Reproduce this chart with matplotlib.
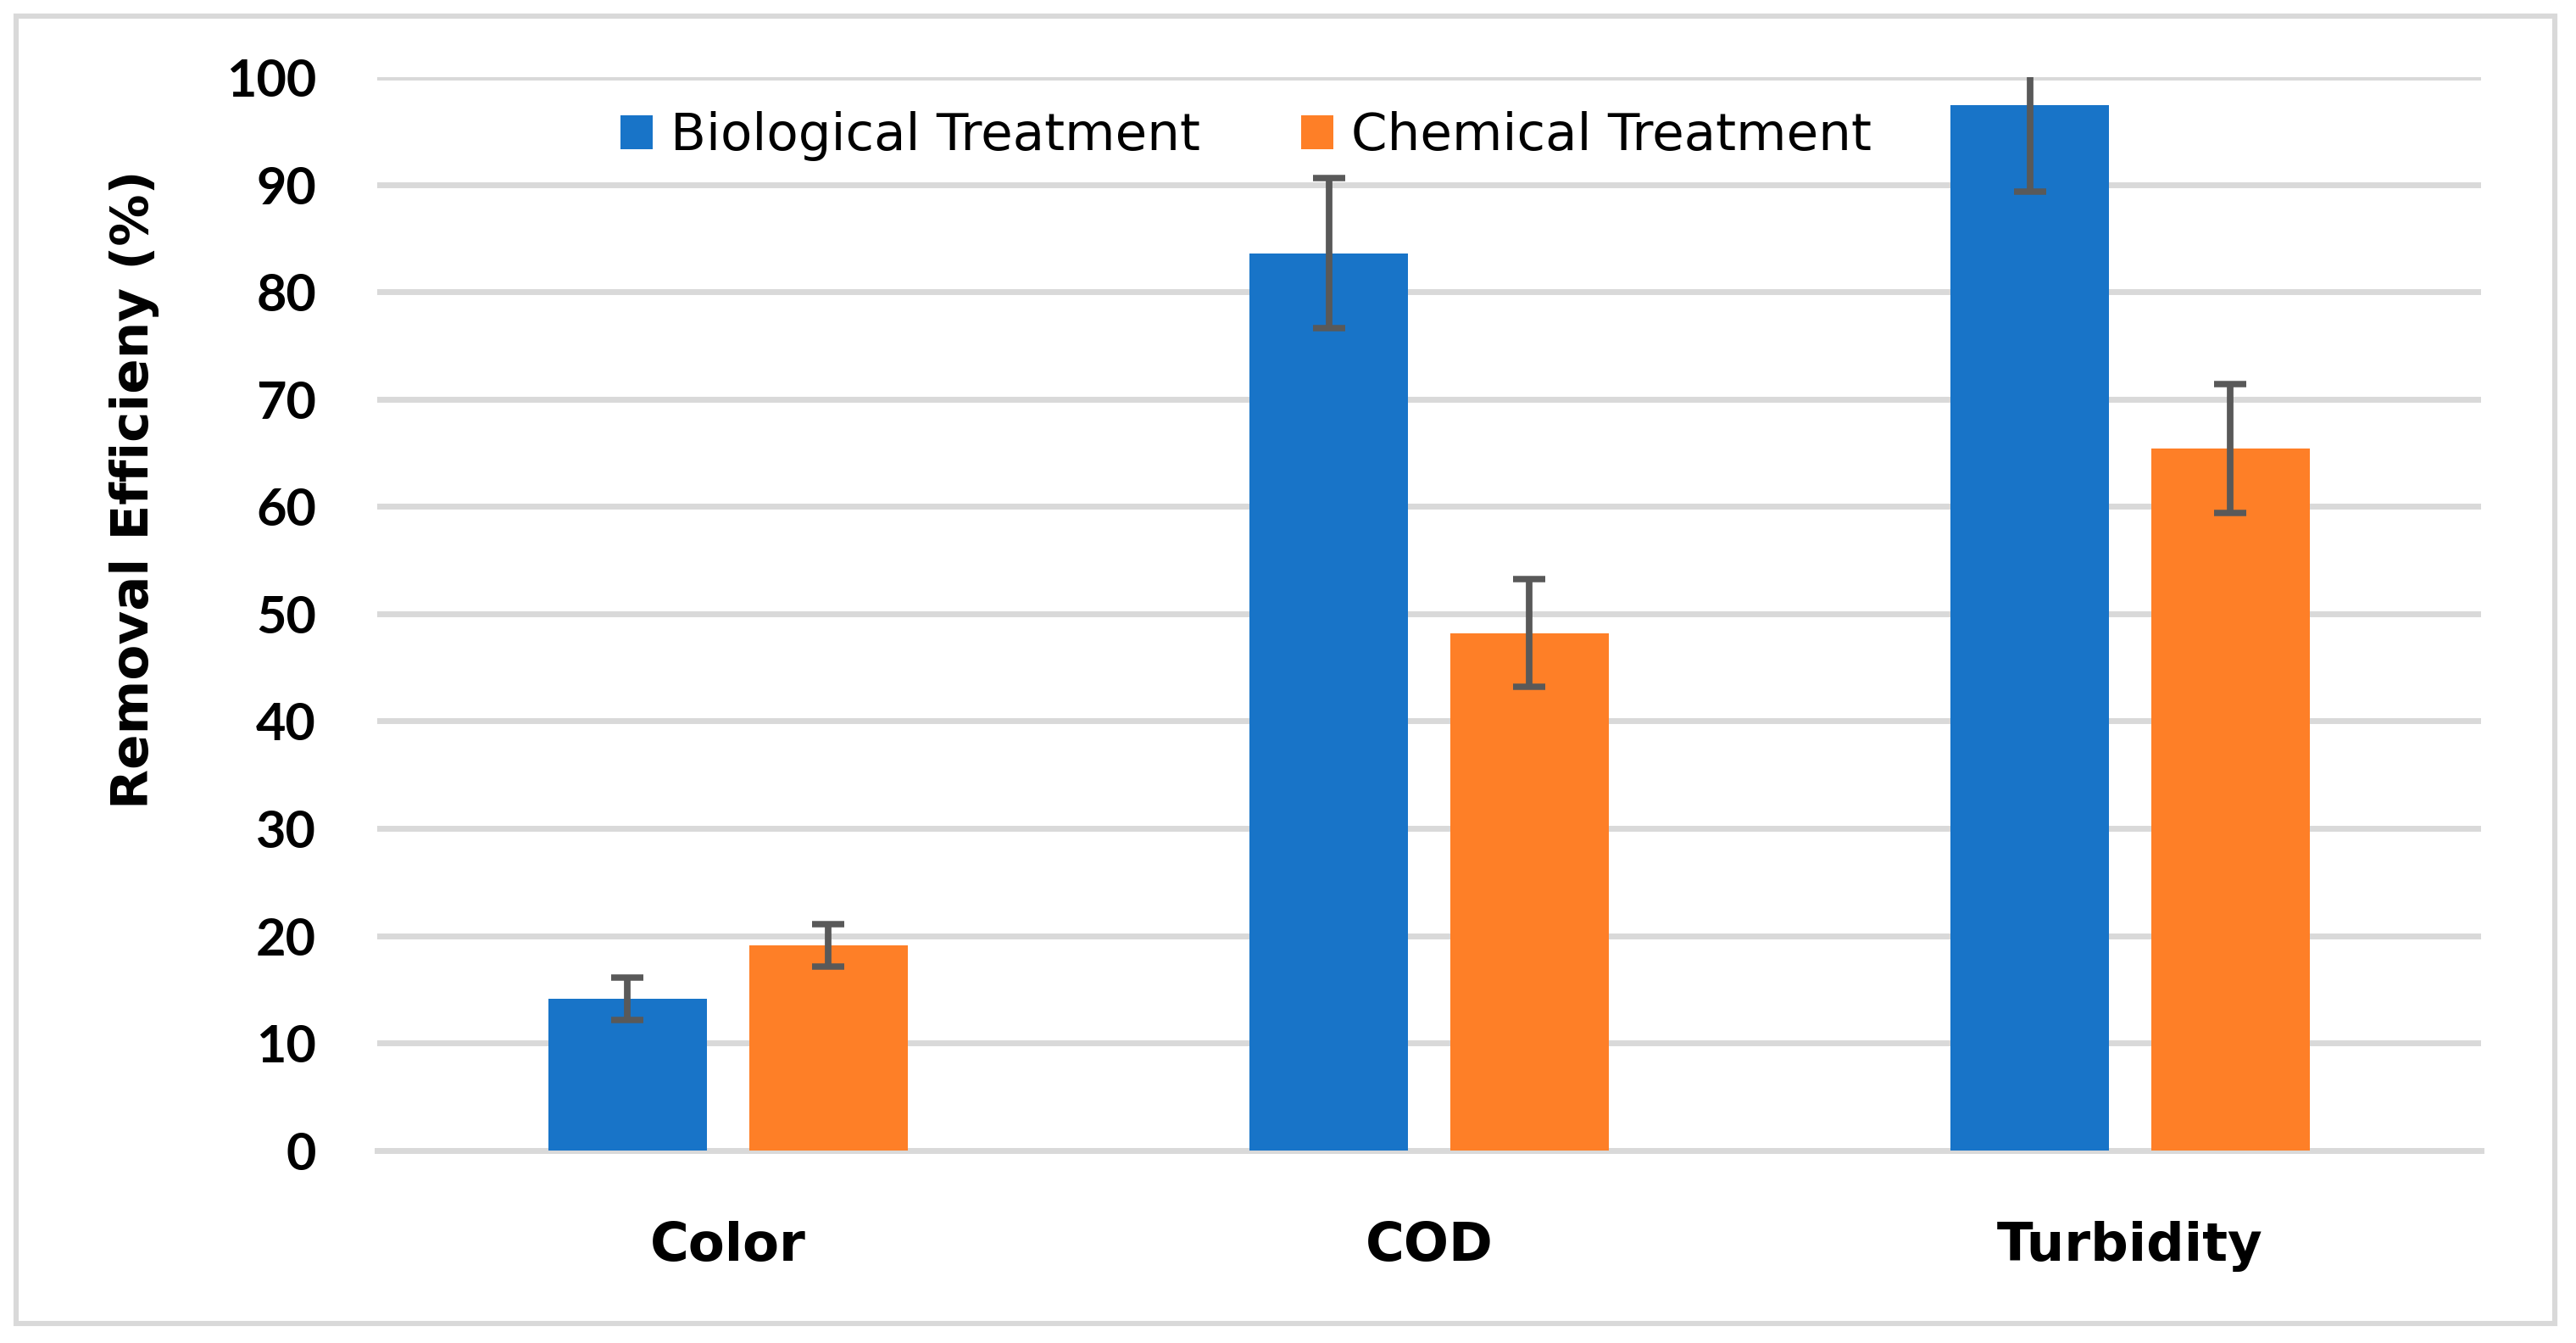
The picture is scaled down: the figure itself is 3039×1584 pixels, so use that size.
import numpy as np
import matplotlib
matplotlib.use("Agg")
import matplotlib.pyplot as plt
from matplotlib.patches import Rectangle

# data
categories = ["Color", "COD", "Turbidity"]
series = ["Biological Treatment", "Chemical Treatment"]
bio_vals = [14.1, 83.6, 97.4]
bio_err = [2.0, 7.0, 8.0]
chem_vals = [19.1, 48.2, 65.4]
chem_err = [2.0, 5.0, 6.0]
yticks = [0, 10, 20, 30, 40, 50, 60, 70, 80, 90, 100]

blue = "#1874c8"
orange = "#fe7f27"
grid = "#d9d9d9"
ecol = "#595959"

fig = plt.figure(figsize=(3039 / 200, 1584 / 200), dpi=200)
ax = fig.add_axes([0.1465, 0.1436, 0.9630 - 0.1465, 0.9423 - 0.1436])

x = np.arange(len(categories))
w = 0.226
off = 0.143
ekw = dict(ecolor=ecol, elinewidth=2.8, capsize=7, capthick=2.7)
ax.bar(x - off, bio_vals, w, color=blue, label=series[0], zorder=3,
       yerr=bio_err, error_kw=ekw)
ax.bar(x + off, chem_vals, w, color=orange, label=series[1], zorder=3,
       yerr=chem_err, error_kw=ekw)

ax.set_xlim(-0.5, 2.5)
ax.set_ylim(0, 100)
ax.set_yticks(yticks)
ax.set_xticks(x)
ax.set_xticklabels(categories, fontsize=22.5, fontweight="bold", family="DejaVu Sans")
for t in ax.get_yticklabels():
	t.set_fontsize(22)
	t.set_fontweight("bold")
	t.set_family("Lato")
ax.tick_params(axis="both", length=0)
ax.tick_params(axis="y", pad=26)
ax.tick_params(axis="x", pad=30)
ax.yaxis.grid(True, color=grid, linewidth=2.5, zorder=0)
ax.set_axisbelow(True)
for s in ["top", "right", "left"]:
	ax.spines[s].set_visible(False)
ax.spines["bottom"].set_color(grid)
ax.spines["bottom"].set_linewidth(2.5)

ax.set_ylabel("Removal Efficieny (%)", fontsize=22, fontweight="bold")
ax.yaxis.set_label_coords(-0.1035, 0.616)

ax.legend(loc="center", bbox_to_anchor=(0.413, 0.945), ncol=2, frameon=False,
		  fontsize=22, handlelength=0.62, handleheight=0.62, handletextpad=0.35,
		  columnspacing=1.95)

fig.patches.append(Rectangle((0.0064, 0.0147), 0.9853, 0.973, transform=fig.transFigure,
							 fill=False, edgecolor=grid, linewidth=2.2))

plt.savefig("out.png", dpi=200)
plt.close()
